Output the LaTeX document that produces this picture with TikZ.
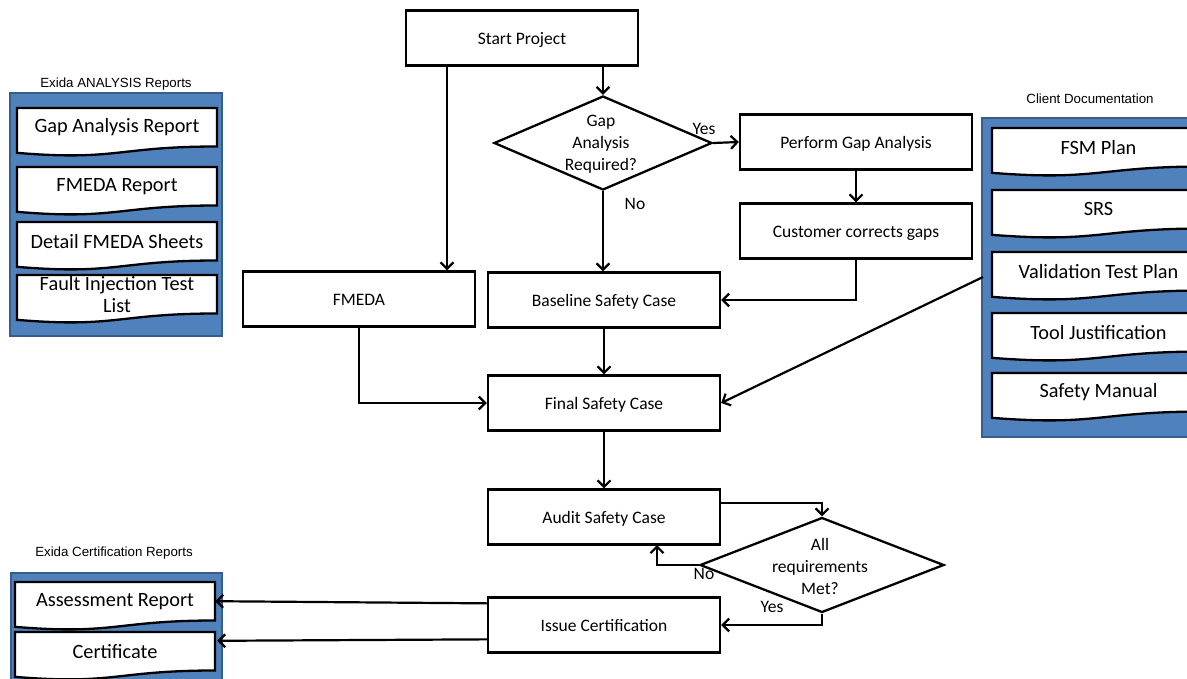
\documentclass[tikz,border=0pt]{standalone}
\usepackage{fontspec}
\setmainfont{Carlito}
\newfontfamily\titlefont{Liberation Sans}
\usetikzlibrary{arrows.meta,shapes.geometric,calc}
\definecolor{panelblue}{HTML}{4F81BD}
\definecolor{panelborder}{HTML}{385D8A}
\newcommand\docbox[6]{%
  \draw[docst] (#2,#3) -- (#4,#3) -- (#4,{#3+0.802*#5})
    .. controls ({(#2+#4)/2},{#3+0.802*#5}) and ({(#2+#4)/2},{#3+1.1075*#5}) .. (#2,{#3+0.934*#5}) -- cycle;
  \node[doctext, minimum width={(#4-(#2))*1pt}, minimum height={0.8*#5*1pt}] (#1) at ({(#2+#4)/2},{#3+0.4*#5}) {#6};}
\begin{document}
\begin{tikzpicture}[x=1pt,y=-1pt,
  box/.style={draw, line width=2.3pt, minimum width=232pt, minimum height=55pt, inner sep=0pt, text height=16pt, text depth=3pt, font=\fontsize{17.5}{20}\selectfont},
  dia/.style={draw, diamond, line width=2.3pt, inner sep=0pt},
  diatext/.style={align=center, inner sep=0pt, font=\fontsize{17.5}{22}\selectfont},
  lbl/.style={inner sep=0pt, font=\fontsize{17.5}{20}\selectfont},
  arr/.style={line width=2.2pt, -{Straight Barb[length=6.5pt,width=13pt,line width=2.2pt]}},
  panel/.style={draw=panelborder, fill=panelblue, line width=1.5pt},
  docst/.style={draw, fill=white, line width=2.3pt},
  doctext/.style={inner sep=0pt, font=\fontsize{20.3}{22}\selectfont, align=center},
  ptitle/.style={inner sep=0pt, font=\titlefont\fontsize{13.3}{15}\selectfont}
]
\useasboundingbox (0,0) rectangle (1187,678);

% ---------- panels ----------
\node[ptitle] (t1) at (116,84) {Exida ANALYSIS Reports};
\draw[panel] (10,93) rectangle (222,336);
\docbox{gar}{17}{108}{217}{48}{Gap Analysis Report}
\docbox{fr}{17}{167}{217}{48}{FMEDA Report}
\docbox{dfs}{17}{222}{217}{48}{Detail FMEDA Sheets}
\docbox{fit}{17}{275}{217}{48}{\fontsize{20.3}{23}\selectfont Fault Injection Test\\List}

\node[ptitle] (t2) at (1090,99) {Client Documentation};
\draw[panel] (982,118) rectangle (1200,437);
\docbox{fsm}{992}{128}{1205}{48}{FSM Plan}
\docbox{srs}{992}{190}{1205}{48}{SRS}
\docbox{vtp}{992}{252}{1205}{48}{Validation Test Plan}
\docbox{tj}{992}{313}{1205}{48}{Tool Justification}
\docbox{sm}{992}{373}{1205}{48}{Safety Manual}

\node[ptitle] (t3) at (114,553) {Exida Certification Reports};
\draw[panel] (11,573) rectangle (222,700);
\docbox{ar}{15}{582}{215}{48}{Assessment Report}
\docbox{cert}{15}{632}{215}{48}{Certificate}

% ---------- flow ----------
\node[box] (start) at (522,38) {Start Project};
\node[dia, minimum width=218pt, minimum height=94pt] (gap) at (603,143) {};
\node[diatext] (gapt) at (601,144) {Gap\\Analysis\\Required?};
\node[box] (perform) at (856,142) {Perform Gap Analysis};
\node[box] (cust) at (856,231) {Customer corrects gaps};
\node[box] (fmeda) at (359,299) {FMEDA};
\node[box] (base) at (604,300) {Baseline Safety Case};
\node[box] (final) at (604,403) {Final Safety Case};
\node[box] (audit) at (604,517) {Audit Safety Case};
\node[dia, minimum width=244pt, minimum height=95pt] (req) at (822,565) {};
\node[diatext] (reqt) at (820,566) {All\\requirements\\Met?};
\node[box] (issue) at (604,625) {Issue Certification};

\node[lbl] (yes1) at (704,129) {Yes};
\node[lbl] (no1) at (635,204) {No};
\node[lbl] (no2) at (704,574) {No};
\node[lbl] (yes2) at (772,607) {Yes};

\coordinate (s1) at (447,65);
\coordinate (vtpin) at (983,277);
\coordinate (nox) at (657,545);

\draw[arr] (start.south -| gap.north) -- (gap.north);
\draw[arr] (start.south -| s1) -- (fmeda.north -| s1);
\draw[arr] (gap.east) -- (perform.west);
\draw[arr] (perform.south) -- (cust.north);
\draw[arr] (cust.south) |- (base.east);
\draw[arr] (gap.south) -- (gap.south |- base.north);
\draw[arr] (base.south) -- (final.north);
\draw[arr] (fmeda.south) |- (final.west);
\draw[arr] (vtpin) -- (final.east);
\draw[arr] (final.south) -- (audit.north);
\draw[arr] ($(audit.east)+(0,-14)$) -| (req.north);
\draw[arr] (req.west) -| (nox);
\draw[arr] (req.south) |- (issue.east);
\draw[arr] ($(issue.north west)+(0,7)$) -- (ar.east);
\draw[arr] ($(issue.north west)+(0,43)$) -- ($(cert.north east)+(2,9)$);
\end{tikzpicture}
\end{document}
